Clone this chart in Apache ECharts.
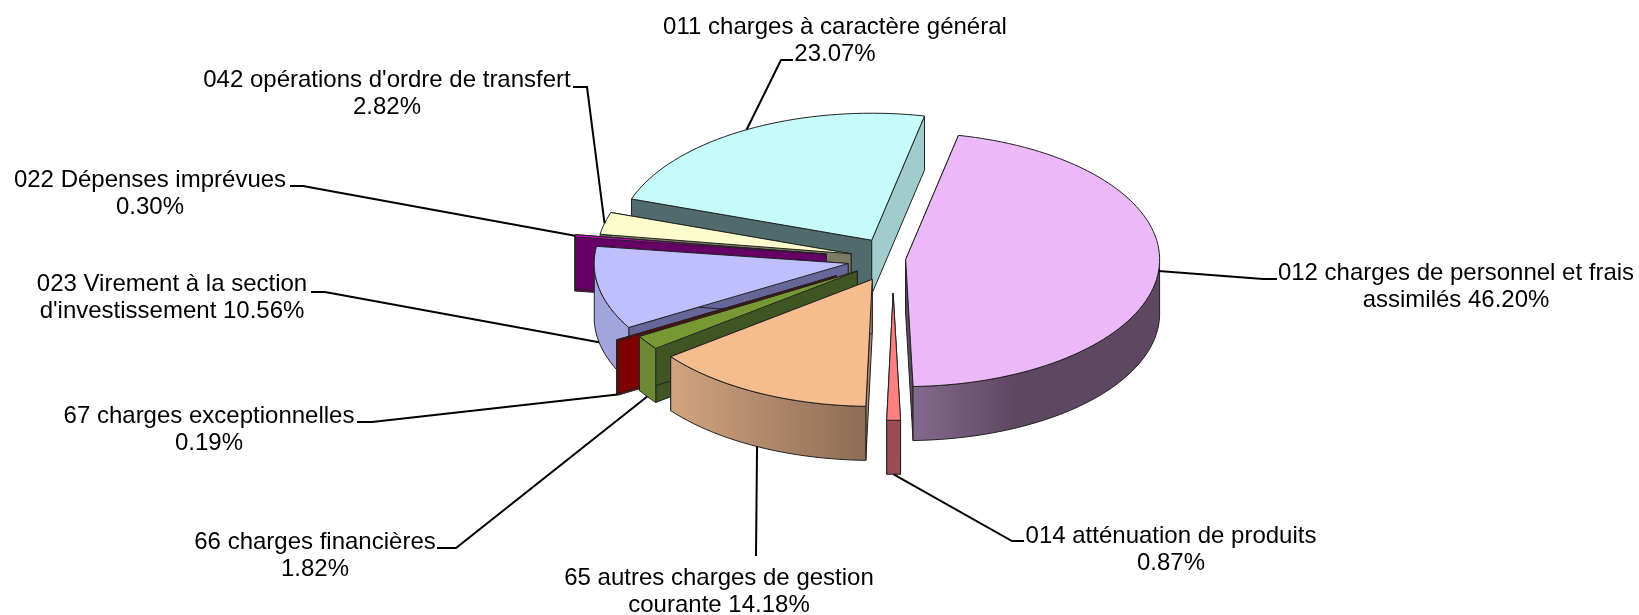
<!DOCTYPE html>
<html>
<head>
<meta charset="utf-8">
<title>Dépenses</title>
<script src="https://cdn.jsdelivr.net/npm/echarts@6/dist/echarts.min.js"></script>
<style>
  html, body { margin: 0; padding: 0; background: #fff; }
  #main { width: 1639px; height: 615px; }
</style>
</head>
<body>
<div id="main"></div>
<script>
// chart data, clockwise from the cyan slice
const categories = [
  '011 charges à caractère général',
  '012 charges de personnel et frais\nassimilés',
  '014 atténuation de produits',
  '65 autres charges de gestion\ncourante',
  '66 charges financières',
  '67 charges exceptionnelles',
  "023 Virement à la section\nd'investissement",
  '022 Dépenses imprévues',
  "042 opérations d'ordre de transfert"
];
const percents = [23.07, 46.20, 0.87, 14.18, 1.82, 0.19, 10.56, 0.30, 2.82];
const explode = [0.17, 0.05, 0.27, 0.18, 0.17, 0.26, 0.18, 0.265, 0.17];

// pie geometry (ellipse of the tilted disc)
const cx = 893, cy = 259, rx = 254, ry = 127, depth = 54;
const firstAngle = -71.05;
const drawOrder = [0, 8, 7, 6, 5, 4, 3, 2, 1]; // back to front

// top, start cut, end cut, wall left, wall right
const faceColors = [
  ['#C6FBFB', '#4F6B6B', '#A0CCCC', '#A0CCCC', '#A0CCCC'],
  ['#EBB8F8', '#604A62', '#604A62', '#84698C', '#5E4763'],
  ['#FF8080', '#994C54', '#994C54', '#994C54', '#994C54'],
  ['#F5BC8E', '#A98468', '#A98468', '#D2A47E', '#8C6C56'],
  ['#779933', '#3F5522', '#3F5522', '#6B8A33', '#6B8A33'],
  ['#800000', '#800000', '#800000', '#800000', '#800000'],
  ['#BFBFFF', '#666699', '#666699', '#A3A3DD', '#A3A3DD'],
  ['#CC00CC', '#660066', '#660066', '#660066', '#660066'],
  ['#FBFBCC', '#7C7C66', '#7C7C66', '#7C7C66', '#7C7C66']
];
// label centre and the bend points of each leader line
const labelPos = [
  [835, 41], [1456, 287], [1171, 550], [719, 592], [315, 556],
  [209, 430], [172, 298], [150, 194], [387, 94]
];
const leaderEnds = [
  [[781, 60], [793, 60]],
  [[1263, 279], [1277, 279]],
  [[1012, 541], [1024, 541]],
  [[756, 556]],
  [[456, 548], [437, 548]],
  [[372, 422], [357, 422]],
  [[325, 292], [311, 292]],
  [[303, 186], [290, 186]],
  [[587, 87], [573, 87]]
];

const startAngles = [];
let running = firstAngle;
percents.forEach(function (p) {
  startAngles.push(running);
  running += p * 3.6;
});

function rimOffset(deg) {
  const a = deg * Math.PI / 180;
  return [Math.sin(a) * rx, -Math.cos(a) * ry];
}

function apex(i) {
  const mid = rimOffset(startAngles[i] + percents[i] * 1.8);
  return [cx + mid[0] * explode[i], cy + mid[1] * explode[i]];
}

function down(p) {
  return [p[0], p[1] + depth];
}

function face(points, fill) {
  return {
    type: 'polygon',
    shape: { points: points },
    style: { fill: fill, stroke: '#222', lineWidth: 1 },
    silent: true
  };
}

function renderSlice(params, api) {
  const i = api.value(0);
  const c = apex(i);
  const start = startAngles[i];
  const end = start + percents[i] * 3.6;
  const colors = faceColors[i];

  const rim = [];
  const steps = Math.max(2, Math.ceil((end - start) / 2));
  for (let s = 0; s <= steps; s++) {
    const o = rimOffset(start + (end - start) * s / steps);
    rim.push([c[0] + o[0], c[1] + o[1]]);
  }
  const first = rim[0];
  const last = rim[rim.length - 1];
  const children = [];

  children.push(face([c, first, down(first), down(c)], colors[1]));
  children.push(face([c, last, down(last), down(c)], colors[2]));

  // only the part of the rim facing the viewer has a wall
  const front = [];
  for (let s = 0; s <= steps; s++) {
    const d = start + (end - start) * s / steps;
    if (Math.cos(d * Math.PI / 180) <= 0) front.push(rim[s]);
  }
  if (front.length > 1) {
    const fill = new echarts.graphic.LinearGradient(0, 0, 1, 0, [
      { offset: 0, color: colors[3] },
      { offset: i === 1 ? 0.42 : 1, color: colors[4] },
      { offset: 1, color: colors[4] }
    ]);
    const wall = front.concat(front.slice().reverse().map(down));
    children.push(face(wall, fill));
  }

  children.push(face([c].concat(rim), colors[0]));
  return { type: 'group', children: children };
}

function renderLabel(params, api) {
  const i = api.value(0);
  const c = apex(i);
  const mid = startAngles[i] + percents[i] * 1.8;
  const o = rimOffset(mid);
  let anchor = [c[0] + o[0], c[1] + o[1]];
  if (Math.cos(mid * Math.PI / 180) < -0.1) anchor = down(anchor);

  const pct = percents[i].toFixed(2) + '%';
  const name = categories[i];
  const text = name.indexOf('\n') >= 0 ? name + ' ' + pct : name + '\n' + pct;

  return {
    type: 'group',
    children: [
      {
        type: 'polyline',
        shape: { points: [anchor].concat(leaderEnds[i]) },
        style: { fill: 'none', stroke: '#000', lineWidth: 2 },
        silent: true
      },
      {
        type: 'text',
        style: {
          x: labelPos[i][0],
          y: labelPos[i][1],
          text: text,
          fill: '#000',
          font: '24px "Liberation Sans", Arial, sans-serif',
          lineHeight: 27,
          align: 'center',
          verticalAlign: 'middle'
        },
        silent: true
      }
    ]
  };
}

const chart = echarts.init(document.getElementById('main'), null, { renderer: 'canvas' });
chart.setOption({
  backgroundColor: '#fff',
  animation: false,
  series: [
    {
      type: 'custom',
      coordinateSystem: 'none',
      renderItem: renderSlice,
      data: drawOrder.map(function (i) { return [i]; }),
      silent: true
    },
    {
      type: 'custom',
      coordinateSystem: 'none',
      renderItem: renderLabel,
      data: categories.map(function (n, i) { return [i]; }),
      silent: true
    }
  ]
});
</script>
</body>
</html>
